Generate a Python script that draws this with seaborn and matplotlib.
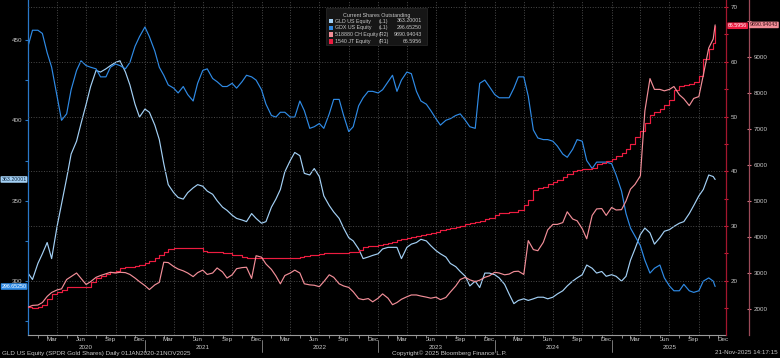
import pandas as pd
import matplotlib
matplotlib.use('Agg')
import matplotlib.pyplot as plt
import matplotlib.dates as mdates
from matplotlib.patches import Rectangle
import seaborn as sns

# semi-monthly samples, last point = 21 Nov 2025
dates = list(pd.date_range('2020-01-01', periods=142, freq='SMS')) + [pd.Timestamp('2025-11-21')]

gld = [305, 301, 311, 317, 324, 314, 334, 348, 364, 379,
       387, 398, 410, 421, 431, 430, 432, 434, 436, 437,
       430, 422, 410, 402, 407, 405, 397, 388, 373, 360,
       355, 352, 351, 355, 358, 360, 359, 356, 354, 350,
       346, 344, 341, 339, 338, 337, 342, 339, 336, 337,
       346, 351, 357, 368, 375, 380, 378, 367, 366, 370,
       365, 353, 347, 343, 339, 333, 327, 325, 320, 314,
       315, 316, 317, 320, 321, 321, 321, 314, 321, 323,
       324, 326, 325, 322, 319, 317, 315, 311, 309, 306,
       303, 297, 300, 296, 305, 305, 304, 302, 298, 292,
       286, 288, 289, 288, 289, 290, 290, 289, 290, 292,
       294, 297, 300, 302, 304, 310, 308, 305, 306, 303,
       304, 303, 300, 303, 313, 320, 329, 333, 330, 323,
       327, 331, 332, 334, 336, 337, 342, 347, 353, 357,
       366, 365, 363.20001]

gdx = [446, 456, 456, 454, 442, 433, 415, 400, 404, 419,
       431, 437, 434, 433, 432, 427, 427, 433, 435, 434,
       432, 436, 446, 452, 458, 452, 443, 433, 428, 422,
       420, 417, 421, 416, 412, 423, 431, 432, 426, 424,
       421, 421, 423, 420, 424, 428, 427, 425, 419, 410,
       403, 402, 405, 405, 402, 402, 412, 406, 395, 396,
       398, 395, 404, 413, 413, 403, 393, 396, 409, 414,
       418, 418, 417, 419, 424, 428, 418, 425, 430, 429,
       418, 412, 410, 406, 401, 397, 400, 401, 403, 404,
       400, 396, 395, 423, 425, 421, 416, 414, 414, 414,
       420, 427, 427, 415, 394, 389, 388, 388, 387, 384,
       379, 377, 382, 388, 387, 375, 370, 374, 374, 374,
       373, 366, 356, 342, 333, 328, 322, 313, 305, 308,
       310, 302, 297, 294, 294, 298, 294, 293, 294, 300,
       302, 300, 296.6525]

ch518880 = [2050, 2100, 2110, 2180, 2350, 2460, 2530, 2560, 2820, 2900,
            3000, 2850, 2680, 2760, 2880, 2930, 2980, 3020, 3000, 3020,
            3010, 2960, 2860, 2760, 2650, 2540, 2670, 2740, 3300, 3290,
            3180, 3110, 3060, 3000, 2900, 3010, 3080, 2960, 3000, 3140,
            3030, 2860, 2950, 3120, 3150, 3160, 2850, 3480, 3440, 3250,
            3100, 2920, 2700, 2930, 3000, 3080, 3000, 2700, 2670, 2660,
            2620, 2760, 2950, 2880, 2700, 2640, 2600, 2480, 2290, 2260,
            2290, 2200, 2300, 2420, 2300, 2120, 2180, 2270, 2340, 2390,
            2390, 2360, 2330, 2300, 2330, 2260, 2320, 2470, 2640, 2820,
            2880, 2810, 2760, 2800, 2880, 2920, 3020, 3000, 2950, 2970,
            3040, 3050, 2960, 3900, 3650, 3620, 3850, 4200, 4350, 4350,
            4400, 4700, 4500, 4450, 4230, 3950, 4600, 4780, 4790, 4600,
            4820, 4750, 4760, 5000, 5330, 5460, 5700, 7500, 8400, 8100,
            8100, 8060, 8100, 8180, 7950, 7840, 7650, 7850, 7900, 8500,
            9250, 9500, 9890.94043]

jt1540 = [15.2, 15.0, 15.2, 15.6, 16.6, 17.6, 17.9, 18.3, 18.8, 18.8,
          18.8, 18.8, 18.8, 19.8, 20.6, 20.8, 21.3, 21.6, 21.8, 22.3,
          22.5, 22.6, 22.7, 22.8, 23.2, 23.6, 24.2, 24.8, 25.2, 25.8,
          26.0, 26.0, 26.0, 26.0, 26.0, 26.0, 25.4, 25.2, 25.2, 25.2,
          25.0, 25.0, 24.8, 24.7, 24.4, 24.1, 24.1, 24.1, 24.1, 24.1,
          24.1, 24.1, 24.1, 24.1, 24.1, 24.2, 24.4, 24.6, 24.7, 24.8,
          24.9, 25.0, 25.0, 25.0, 25.1, 25.1, 25.2, 25.2, 25.7, 26.1,
          26.3, 26.4, 26.5, 26.7, 26.9, 27.1, 27.4, 27.6, 27.8, 28.0,
          28.2, 28.4, 28.6, 28.8, 29.0, 29.2, 29.5, 29.7, 29.9, 30.1,
          30.4, 30.6, 30.8, 31.0, 31.3, 31.5, 32.0, 32.3, 32.4, 32.5,
          32.6, 32.9, 33.8, 34.8, 36.5, 37.0, 37.2, 37.7, 38.0, 38.4,
          38.9, 39.5, 40.1, 40.3, 40.4, 40.5, 40.7, 41.3, 41.6, 41.9,
          42.3, 42.8, 43.3, 44.0, 45.0, 46.2, 47.4, 48.9, 50.2, 50.9,
          51.4, 52.1, 53.0, 54.8, 55.5, 55.7, 56.0, 56.4, 57.5, 60.5,
          62.3, 63.5, 66.5956]

legend_names = ['GLD US Equity', 'GDX US Equity', '518880 CH Equity', '1540 JT Equity']
legend_axes = ['(L1)', '(L1)', '(R2)', '(R1)']
legend_last = ['363.20001', '296.65250', '9890.94043', '66.5956']

c_gld = '#a3d0f5'
c_gdx = '#2f8be6'
c_ch = '#f28e98'
c_jt = '#ec1c40'
txt = '#c8c8c8'
grid_c = '#4a4a4a'

df = pd.DataFrame({'date': dates, 'gld': gld, 'gdx': gdx, 'ch': ch518880, 'jt': jt1540})

sns.set_style('dark', {'axes.facecolor': 'black', 'figure.facecolor': 'black'})
plt.rcParams['font.family'] = ['Liberation Sans', 'DejaVu Sans']
plt.rcParams['font.size'] = 4.5

fig = plt.figure(figsize=(7.8, 3.58), dpi=100, facecolor='black')
ax = fig.add_axes([28 / 780, 23 / 358, 698 / 780, 335 / 358])
ax.set_facecolor('black')
ax_r1 = ax.twinx()
ax_r2 = ax.twinx()
ax_r2.spines['right'].set_position(('axes', 1.033))

sns.lineplot(data=df, x='date', y='gld', ax=ax, color=c_gld, lw=0.85)
sns.lineplot(data=df, x='date', y='gdx', ax=ax, color=c_gdx, lw=0.85)
sns.lineplot(data=df, x='date', y='ch', ax=ax_r2, color=c_ch, lw=0.85)
sns.lineplot(data=df, x='date', y='jt', ax=ax_r1, color=c_jt, lw=0.85, drawstyle='steps-post')

ax.set_xlim(pd.Timestamp('2020-01-01'), pd.Timestamp('2025-12-25'))
ax.set_ylim(266.5, 474.8)
ax_r1.set_ylim(10.1, 71.3)
ax_r2.set_ylim(1278, 10583)

for a in (ax, ax_r1, ax_r2):
    a.set_xlabel('')
    a.set_ylabel('')
    for s in a.spines.values():
        s.set_visible(False)

# left axis (L1)
ax.spines['left'].set_visible(True)
ax.spines['left'].set_color('#2a78c8')
ax.spines['left'].set_linewidth(0.9)
ax.spines['bottom'].set_visible(True)
ax.spines['bottom'].set_color('#9a9a9a')
ax.spines['bottom'].set_linewidth(0.8)
ax.set_yticks([300, 350, 400, 450])
ax.set_yticks([275, 325, 375, 425], minor=True)
ax.tick_params(axis='y', which='both', colors='#2a78c8', labelcolor=txt, length=2.5, width=0.8,
               labelsize=4.5, pad=1.5, left=True)

# right axis (R1)
ax_r1.spines['right'].set_visible(True)
ax_r1.spines['right'].set_color('#a3162e')
ax_r1.spines['right'].set_linewidth(0.9)
ax_r1.set_yticks([20, 30, 40, 50, 60, 70])
ax_r1.set_yticks([15, 25, 35, 45, 55, 65], minor=True)
ax_r1.tick_params(axis='y', which='both', colors='#d01c38', labelcolor=txt, length=3, width=0.8,
                  direction='inout', labelsize=4.5, pad=2, right=True)
ax_r1.grid(True, axis='y', which='major', ls=':', color=grid_c, lw=0.7)

# right axis (R2) - top label sits under the last-value tag, so leave it blank
ax_r2.spines['right'].set_visible(True)
ax_r2.spines['right'].set_color('#9c4a58')
ax_r2.spines['right'].set_linewidth(0.9)
r2_ticks = [2000, 3000, 4000, 5000, 6000, 7000, 8000, 9000, 10000]
ax_r2.set_yticks(r2_ticks)
ax_r2.set_yticklabels([str(t) if t < 10000 else '' for t in r2_ticks])
ax_r2.tick_params(axis='y', which='both', colors='#d87a88', labelcolor=txt, length=3, width=0.8,
                  direction='inout', labelsize=4.5, pad=2, right=True)

# x axis: quarter grid, monthly ticks, labels mid-month
ax.xaxis.set_major_locator(mdates.MonthLocator(bymonth=[1, 4, 7, 10]))
ax.xaxis.set_minor_locator(mdates.MonthLocator())
ax.xaxis.set_major_formatter(plt.NullFormatter())
ax.tick_params(axis='x', which='major', length=0)
ax.tick_params(axis='x', which='minor', length=2, color='#9a9a9a', width=0.6, bottom=True)
ax.grid(True, axis='x', which='major', ls=':', color=grid_c, lw=0.7)
ax.grid(False, axis='y')

xt = ax.get_xaxis_transform()
for yr in range(2020, 2026):
    for mo, name in [(3, 'Mar'), (6, 'Jun'), (9, 'Sep'), (12, 'Dec')]:
        ax.text(pd.Timestamp(yr, mo, 15), -0.006, name, transform=xt, ha='center', va='top',
                color=txt, fontsize=4.5)
    ax.text(pd.Timestamp(yr, 7, 1), -0.03, str(yr), transform=xt, ha='center', va='top',
            color=txt, fontsize=4.5)
    if yr > 2020:
        ax.plot([pd.Timestamp(yr, 1, 1)] * 2, [-0.015, -0.05], transform=xt, color='#8a8a8a',
                lw=0.6, clip_on=False)

# last value tags
yt = ax.get_yaxis_transform()
ax.text(-0.002, gld[-1], legend_last[0], transform=yt, ha='right', va='center', fontsize=3.8,
        color='#10253a', bbox=dict(boxstyle='round,pad=0.15', fc=c_gld, ec='none'))
ax.text(-0.002, gdx[-1], legend_last[1], transform=yt, ha='right', va='center', fontsize=3.8,
        color='white', bbox=dict(boxstyle='round,pad=0.15', fc=c_gdx, ec='none'))
ax_r1.text(1.003, jt1540[-1], legend_last[3], transform=ax_r1.get_yaxis_transform(), ha='left',
           va='center', fontsize=3.8, color='white',
           bbox=dict(boxstyle='round,pad=0.15', fc=c_jt, ec='none'))
ax_r2.text(1.034, ch518880[-1], legend_last[2], transform=ax_r2.get_yaxis_transform(), ha='left',
           va='center', fontsize=3.8, color='#3a1016',
           bbox=dict(boxstyle='round,pad=0.15', fc=c_ch, ec='none'))

# legend box
fig.patches.append(Rectangle((326 / 780, 1 - 45 / 358), 101 / 780, 37 / 358, transform=fig.transFigure,
                             fc='#161616', ec='#2a2a2a', lw=0.5, zorder=5))
fig.text(377 / 780, 1 - 15 / 358, 'Current Shares Outstanding', ha='center', va='center',
         color=txt, fontsize=3.9, zorder=6)
for i, (nm, axn, val, col) in enumerate(zip(legend_names, legend_axes, legend_last,
                                            [c_gld, c_gdx, c_ch, c_jt])):
    yy = 1 - (21 + i * 6.8) / 358
    fig.patches.append(Rectangle((329 / 780, yy - 2.2 / 358), 4.4 / 780, 4.4 / 358,
                                 transform=fig.transFigure, fc=col, ec='none', zorder=6))
    fig.text(335 / 780, yy, nm, ha='left', va='center', color=txt, fontsize=3.8, zorder=6)
    fig.text(379 / 780, yy, axn, ha='left', va='center', color=txt, fontsize=3.8, zorder=6)
    fig.text(422 / 780, yy, val, ha='right', va='center', color=txt, fontsize=3.8, zorder=6)

# footer
fig.text(0.002, 5 / 358, 'GLD US Equity (SPDR Gold Shares) Daily 01JAN2020-21NOV2025', ha='left',
         va='center', color=txt, fontsize=4.5)
fig.text(392 / 780, 5 / 358, 'Copyright\u00a9 2025 Bloomberg Finance L.P.', ha='left', va='center',
         color=txt, fontsize=4.5)
fig.text(0.997, 5 / 358, '21-Nov-2025 14:17:15', ha='right', va='center', color=txt, fontsize=4.5)

fig.savefig('out.png', dpi=100, facecolor='black')
